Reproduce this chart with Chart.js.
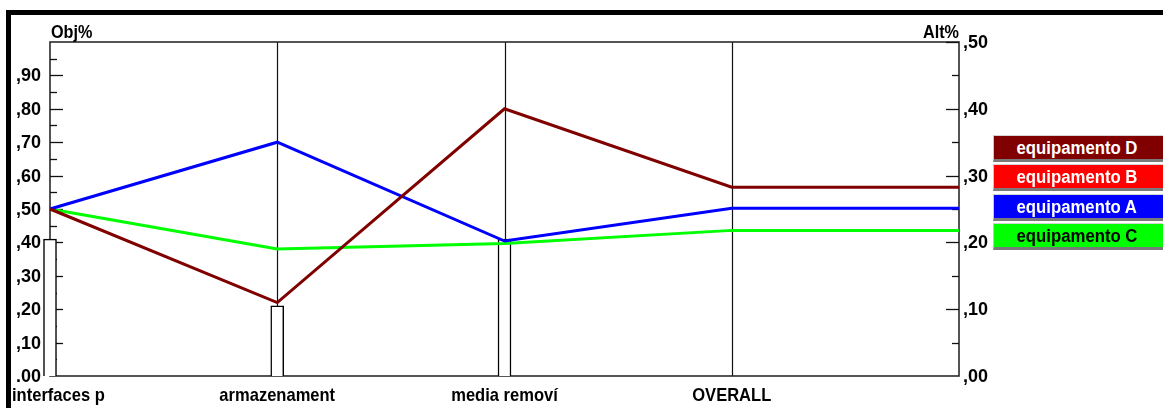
<!DOCTYPE html>
<html>
<head>
<meta charset="utf-8">
<script src="https://cdn.jsdelivr.net/npm/chart.js@4.4.1/dist/chart.umd.min.js"></script>
<style>
  html, body { margin: 0; padding: 0; background: #fff; }
  #wrap { position: relative; width: 1163px; height: 408px; overflow: hidden; }
  canvas { position: absolute; left: 0; top: 0; }
  .leg {
    position: absolute; left: 993px; width: 172px; height: 23px;
    box-sizing: content-box;
    border-top: 1px solid #d4d4d4; border-left: 1px solid #c8c8c8;
    border-bottom: 3px solid #7a7a7a;
    font: bold 18px "Liberation Sans", Arial, sans-serif;
    text-align: center; line-height: 24px; color: #fff;
  }
  .leg span { display: inline-block; transform: scaleX(0.93); margin-left: -6px; }
</style>
</head>
<body>
<div id="wrap">
  <canvas id="c" width="1163" height="408"></canvas>
</div>
<script>
// Criteria along the x axis; the last slot is the right-hand (Alt%) axis.
const categories = ['interfaces p', 'armazenament', 'media removí', 'OVERALL', ''];

// Criterion weights (Obj%), drawn as the hollow bars.
const weights = [0.41, 0.21, 0.41, null, null];

// Alternative scores per criterion; OVERALL carried flat to the right axis.
const equipD = [0.50, 0.22, 0.80, 0.565, 0.565];
const equipA = [0.50, 0.70, 0.404, 0.502, 0.502];
const equipC = [0.50, 0.38, 0.397, 0.436, 0.436];

// Legend entries, top to bottom.
const legendNames  = ['equipamento D', 'equipamento B', 'equipamento A', 'equipamento C'];
const legendColors = ['#800000', '#ff0000', '#0000ff', '#00ff00'];
const legendText   = ['#fff', '#fff', '#fff', '#000'];

// Axis tick labels.
const leftTicks  = [0, 0.1, 0.2, 0.3, 0.4, 0.5, 0.6, 0.7, 0.8, 0.9];
const leftTickLabels  = ['.00', ',10', ',20', ',30', ',40', ',50', ',60', ',70', ',80', ',90'];
const rightTicks = [0, 0.1, 0.2, 0.3, 0.4, 0.5];
const rightTickLabels = [',00', ',10', ',20', ',30', ',40', ',50'];

const SANS = '"Liberation Sans", Arial, sans-serif';

// Legend buttons
const wrap = document.getElementById('wrap');
legendNames.forEach((name, i) => {
  const d = document.createElement('div');
  d.className = 'leg';
  d.style.top = (135 + i * 29.3) + 'px';
  d.style.background = legendColors[i];
  d.style.color = legendText[i];
  const s = document.createElement('span');
  s.textContent = name;
  d.appendChild(s);
  wrap.appendChild(d);
});

// Draw text squeezed horizontally by sx, anchored at its left edge.
function squeezed(ctx, text, x, y, sx) {
  ctx.save();
  ctx.translate(x, y);
  ctx.scale(sx, 1);
  ctx.textAlign = 'left';
  ctx.fillText(text, 0, 0);
  ctx.restore();
}

// Frame, grid, axes and labels drawn around the datasets using the chart scales.
const framePlugin = {
  id: 'frame',
  beforeDatasetsDraw(chart) {
    const ctx = chart.ctx;
    const a = chart.chartArea;
    const x = chart.scales.x, y = chart.scales.y, y2 = chart.scales.y2;
    ctx.save();
    // outer black frame
    ctx.fillStyle = '#000';
    ctx.fillRect(6, 10, 1157, 5);
    ctx.fillRect(6, 10, 5, 398);

    // vertical criterion lines
    ctx.strokeStyle = '#111';
    ctx.lineWidth = 1.2;
    for (let i = 1; i < categories.length - 1; i++) {
      const px = Math.round(x.getPixelForValue(i)) + 0.5;
      ctx.beginPath(); ctx.moveTo(px, a.top); ctx.lineTo(px, a.bottom); ctx.stroke();
    }
    // plot box
    ctx.strokeStyle = '#2a2a2a';
    ctx.lineWidth = 1.6;
    ctx.strokeRect(a.left, a.top, a.right - a.left, a.bottom - a.top);

    // left axis ticks (major + minor)
    ctx.strokeStyle = '#111';
    ctx.lineWidth = 1.3;
    for (let v = 0.05; v < 1.0; v += 0.05) {
      const py = Math.round(y.getPixelForValue(v)) + 0.5;
      const major = Math.abs(v * 10 - Math.round(v * 10)) < 1e-6;
      ctx.beginPath(); ctx.moveTo(a.left, py); ctx.lineTo(a.left + (major ? 13 : 7), py); ctx.stroke();
    }
    // right axis ticks
    for (let v = 0.05; v < 0.5; v += 0.05) {
      const py = Math.round(y2.getPixelForValue(v)) + 0.5;
      const major = Math.abs(v * 10 - Math.round(v * 10)) < 1e-6;
      ctx.beginPath(); ctx.moveTo(a.right, py); ctx.lineTo(a.right - (major ? 13 : 7), py); ctx.stroke();
    }

    // tick labels
    ctx.fillStyle = '#000';
    ctx.font = 'bold 18px ' + SANS;
    ctx.textBaseline = 'middle';
    ctx.textAlign = 'right';
    leftTicks.forEach((v, i) => {
      ctx.fillText(leftTickLabels[i], 41, y.getPixelForValue(v) + 1);
    });
    ctx.textAlign = 'left';
    rightTicks.forEach((v, i) => {
      ctx.fillText(rightTickLabels[i], 963, y2.getPixelForValue(v) + 1);
    });

    // axis titles
    ctx.textBaseline = 'alphabetic';
    squeezed(ctx, 'Obj%', 51, 38, 0.9);
    const altW = ctx.measureText('Alt%').width * 0.9;
    squeezed(ctx, 'Alt%', 959 - altW, 38, 0.9);

    // criterion labels
    ctx.font = 'bold 19px ' + SANS;
    const sx = 0.87;
    categories.forEach((c, i) => {
      if (!c) return;
      const w = ctx.measureText(c).width * sx;
      const cx = x.getPixelForValue(i);
      squeezed(ctx, c, Math.max(cx - w / 2, 12), 401, sx);
    });
    ctx.restore();
  }
};

new Chart(document.getElementById('c'), {
  data: {
    labels: categories,
    datasets: [
      { type: 'line', label: 'equipamento D', data: equipD, borderColor: '#800000', borderWidth: 3, pointRadius: 0, tension: 0, order: 1 },
      { type: 'line', label: 'equipamento A', data: equipA, borderColor: '#0000ff', borderWidth: 3, pointRadius: 0, tension: 0, order: 2 },
      { type: 'line', label: 'equipamento C', data: equipC, borderColor: '#00ff00', borderWidth: 3, pointRadius: 0, tension: 0, order: 3 },
      { type: 'bar', label: 'peso', data: weights, backgroundColor: '#fff', borderColor: '#000', borderWidth: 1.5, barThickness: 13, clip: false, order: 10 }
    ]
  },
  options: {
    responsive: false,
    animation: false,
    devicePixelRatio: 1,
    layout: { padding: { left: 50, right: 204, top: 42, bottom: 32 } },
    plugins: { legend: { display: false }, tooltip: { enabled: false } },
    scales: {
      x: { type: 'category', offset: false, display: false },
      y: { type: 'linear', min: 0, max: 1.0, display: false },
      y2: { type: 'linear', min: 0, max: 0.5, display: false }
    }
  },
  plugins: [framePlugin]
});
</script>
</body>
</html>
